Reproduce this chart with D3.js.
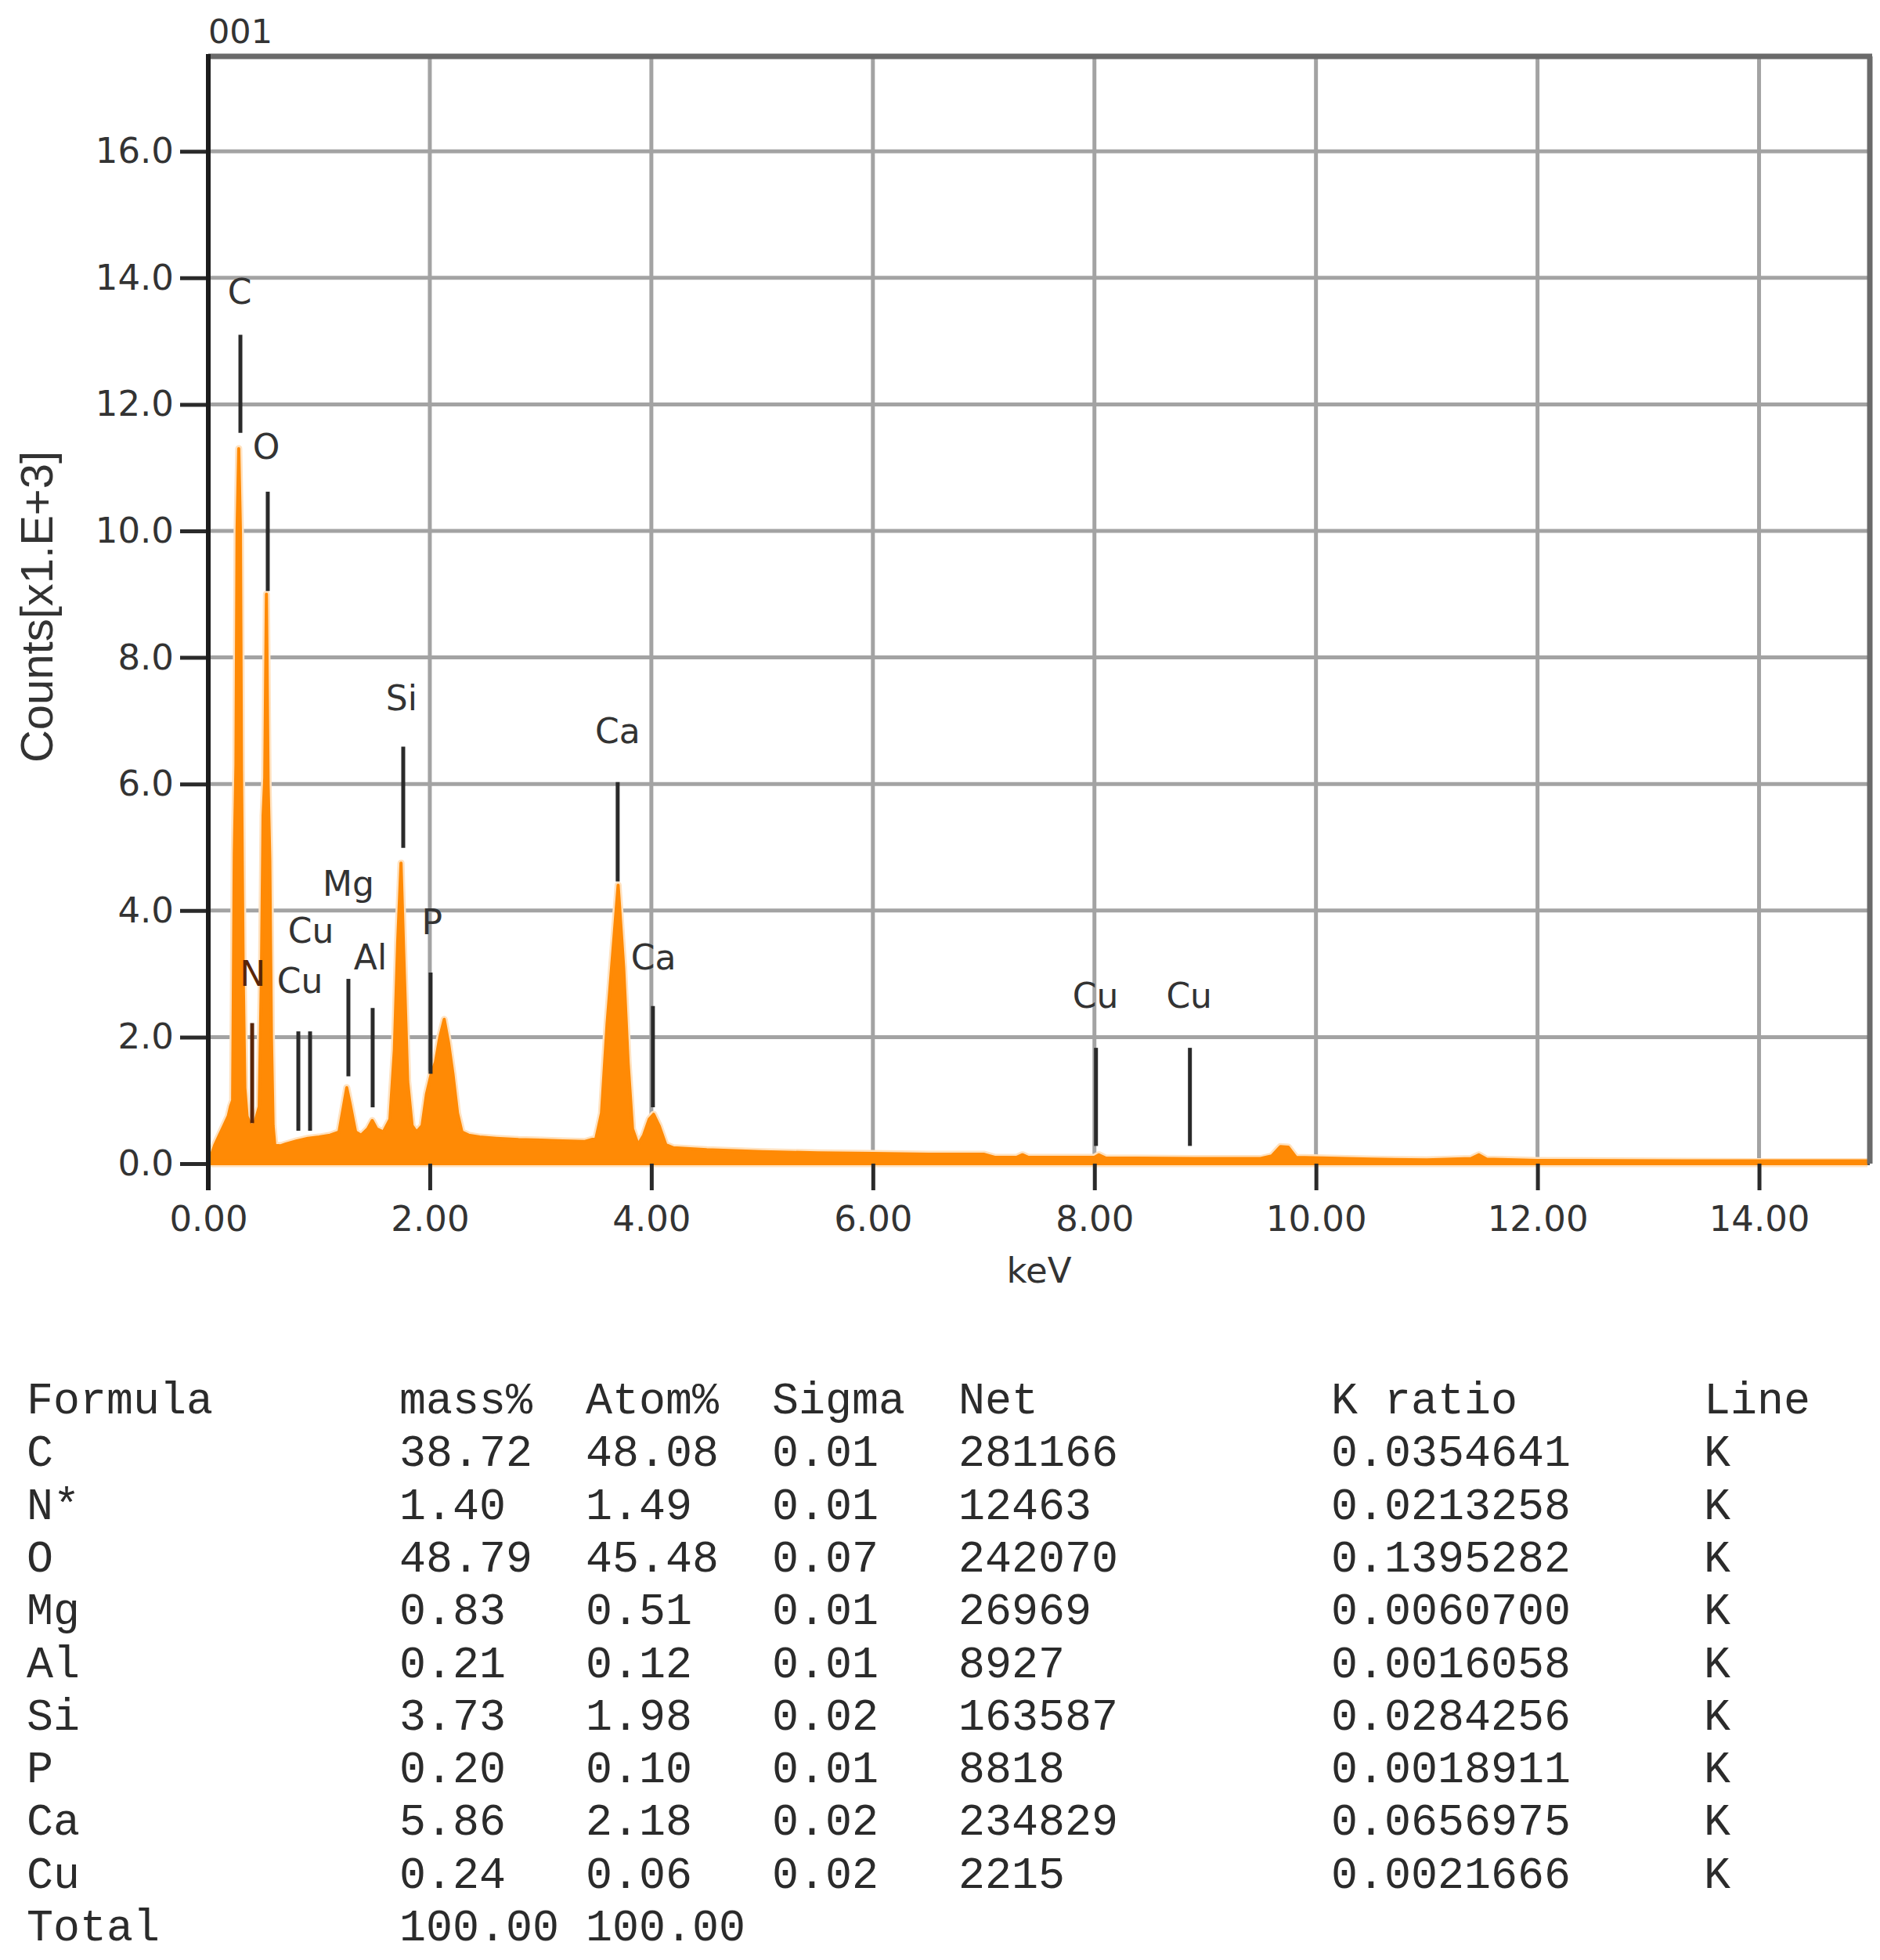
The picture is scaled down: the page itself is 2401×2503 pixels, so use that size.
<!DOCTYPE html>
<html>
<head>
<meta charset="utf-8">
<script src="https://cdn.jsdelivr.net/npm/d3@7"></script>
<style>
  html, body { margin: 0; padding: 0; background: #fff; }
  svg { display: block; }
</style>
</head>
<body>
<svg id="chart" width="2401" height="2503"></svg>
<script>
// ---------------- DATA ----------------
const spectrumKeV = [
  0.00, 0.03, 0.06, 0.10, 0.14, 0.18, 0.20, 0.22, 0.235, 0.25, 0.26, 0.275, 0.29, 0.30, 0.315, 0.33,
  0.35, 0.38, 0.40, 0.42, 0.46, 0.48, 0.495, 0.51, 0.525, 0.54, 0.555, 0.57, 0.585, 0.60,
  0.65, 0.70, 0.80, 0.90, 1.00, 1.10, 1.18, 1.22, 1.25, 1.28, 1.33, 1.38, 1.44, 1.48, 1.52,
  1.58, 1.64, 1.68, 1.71, 1.74, 1.77, 1.80, 1.84, 1.88, 1.93, 1.97, 2.01, 2.05, 2.09, 2.13,
  2.17, 2.21, 2.25, 2.29, 2.35, 2.45, 2.60, 2.80, 3.00, 3.20, 3.40, 3.50, 3.55, 3.60, 3.65,
  3.70, 3.75, 3.79, 3.83, 3.88, 3.93, 3.98, 4.02, 4.07, 4.13, 4.20, 4.50, 5.00, 5.50, 6.00,
  6.50, 7.00, 7.10, 7.30, 7.35, 7.40, 8.00, 8.04, 8.10, 9.00, 9.50, 9.60, 9.68, 9.75, 9.82,
  10.50, 11.00, 11.40, 11.47, 11.54, 12.00, 13.00, 14.00, 15.00
];
const spectrumCounts = [
  0.00, 0.15, 0.30, 0.45, 0.60, 0.75, 0.90, 1.00, 4.90, 6.30, 10.00, 11.30, 10.00, 6.20, 3.00, 1.20,
  0.75, 0.62, 0.60, 0.65, 0.90, 3.00, 5.50, 6.10, 9.00, 6.00, 4.80, 2.00, 0.60, 0.30,
  0.28, 0.31, 0.36, 0.40, 0.42, 0.45, 0.50, 0.90, 1.20, 0.95, 0.50, 0.45, 0.55, 0.68, 0.55,
  0.50, 0.70, 1.80, 3.50, 4.75, 3.00, 1.30, 0.60, 0.50, 0.60, 1.10, 1.40, 1.60, 2.00, 2.28,
  1.90, 1.40, 0.80, 0.50, 0.45, 0.42, 0.40, 0.38, 0.37, 0.36, 0.35, 0.40, 0.80, 2.20, 3.30,
  4.40, 3.10, 1.60, 0.55, 0.30, 0.45, 0.70, 0.78, 0.60, 0.30, 0.25, 0.22, 0.19, 0.17, 0.16,
  0.15, 0.15, 0.10, 0.10, 0.14, 0.10, 0.10, 0.14, 0.09, 0.08, 0.08, 0.12, 0.27, 0.26, 0.10,
  0.07, 0.06, 0.08, 0.14, 0.07, 0.05, 0.04, 0.03, 0.03
];

// peak marker lines: element, line energy, top/bottom of marker (counts), label anchor (keV, counts)
const markerElements = ["C", "O", "N", "Cu", "Cu", "Mg", "Al", "Si", "P", "Ca", "Ca", "Cu", "Cu"];
const markerKeV      = [0.290, 0.537, 0.396, 0.813, 0.919, 1.265, 1.484, 1.760, 2.007, 3.696, 4.014, 8.014, 8.862];
const markerTop      = [13.10, 10.62, 2.22, 2.09, 2.09, 2.92, 2.46, 6.59, 3.02, 6.03, 2.49, 1.83, 1.83];
const markerBottom   = [11.55, 9.05, 0.64, 0.52, 0.52, 1.38, 0.89, 4.99, 1.42, 4.46, 0.89, 0.28, 0.28];
const labelKeV       = [0.283, 0.523, 0.400, 0.827, 0.926, 1.265, 1.463, 1.745, 2.020, 3.696, 4.020, 8.010, 8.855];
const labelCounts    = [13.70, 11.25, 2.92, 2.81, 3.60, 4.34, 3.18, 7.27, 3.73, 6.76, 3.18, 2.57, 2.57];

const xTicks = [0, 2, 4, 6, 8, 10, 12, 14];
const yTicks = [0, 2, 4, 6, 8, 10, 12, 14, 16];
const xDomain = [0, 15];
const yDomain = [0, 17.5];
const chartTitle = "001";
const xLabel = "keV";
const yLabel = "Counts[x1.E+3]";

// quantification table
const tableHeaders = ["Formula", "mass%", "Atom%", "Sigma", "Net", "K ratio", "Line"];
const tableFormula = ["C", "N*", "O", "Mg", "Al", "Si", "P", "Ca", "Cu"];
const tableMass    = ["38.72", "1.40", "48.79", "0.83", "0.21", "3.73", "0.20", "5.86", "0.24"];
const tableAtom    = ["48.08", "1.49", "45.48", "0.51", "0.12", "1.98", "0.10", "2.18", "0.06"];
const tableSigma   = ["0.01", "0.01", "0.07", "0.01", "0.01", "0.02", "0.01", "0.02", "0.02"];
const tableNet     = ["281166", "12463", "242070", "26969", "8927", "163587", "8818", "234829", "2215"];
const tableKratio  = ["0.0354641", "0.0213258", "0.1395282", "0.0060700", "0.0016058", "0.0284256", "0.0018911", "0.0656975", "0.0021666"];
const tableLine    = ["K", "K", "K", "K", "K", "K", "K", "K", "K"];
const tableTotal   = ["Total", "100.00", "100.00"];

// ---------------- LAYOUT ----------------
const svg = d3.select("#chart");
svg.append("rect").attr("width", 2401).attr("height", 2503).attr("fill", "#fff");

const plot = { left: 266, right: 2388, top: 72, bottom: 1486 };
const x = d3.scaleLinear().domain(xDomain).range([plot.left, plot.right]);
const y = d3.scaleLinear().domain(yDomain).range([plot.bottom, plot.top]);

const sansW = "'DejaVu Sans', Verdana, sans-serif";
const textColor = "#333";
const gridColor = "#a3a3a3";
const orange = "#ff8a05";

svg.append("defs").append("clipPath").attr("id", "plotClip")
  .append("rect").attr("x", plot.left).attr("y", plot.top - 10)
  .attr("width", plot.right - plot.left - 3).attr("height", plot.bottom - plot.top + 16);

// grid
const grid = svg.append("g");
grid.selectAll("line.v").data(xTicks.filter(d => d > 0)).join("line")
  .attr("x1", d => x(d)).attr("x2", d => x(d))
  .attr("y1", plot.top).attr("y2", plot.bottom)
  .attr("stroke", gridColor).attr("stroke-width", 5);
grid.selectAll("line.h").data(yTicks.filter(d => d > 0)).join("line")
  .attr("x1", plot.left).attr("x2", plot.right)
  .attr("y1", d => y(d)).attr("y2", d => y(d))
  .attr("stroke", gridColor).attr("stroke-width", 5);

// bottom axis line
svg.append("line").attr("x1", plot.left).attr("x2", plot.right)
  .attr("y1", plot.bottom).attr("y2", plot.bottom)
  .attr("stroke", "#555").attr("stroke-width", 4);

// spectrum
const spectrum = spectrumKeV.map((k, i) => ({ k, c: spectrumCounts[i] }));
const area = d3.area().x(d => x(d.k)).y0(y(0)).y1(d => y(d.c)).curve(d3.curveLinear);
const sg = svg.append("g").attr("clip-path", "url(#plotClip)");
sg.append("path").datum(spectrum).attr("d", area)
  .attr("fill", "#ffd9ab").attr("stroke", "#ffe2c0").attr("stroke-width", 9).attr("stroke-linejoin", "round");
sg.append("path").datum(spectrum).attr("d", area)
  .attr("fill", orange).attr("stroke", orange).attr("stroke-width", 4).attr("stroke-linejoin", "round");
sg.append("line").attr("x1", plot.left).attr("x2", plot.right)
  .attr("y1", plot.bottom - 2).attr("y2", plot.bottom - 2)
  .attr("stroke", orange).attr("stroke-width", 7);

// frame (top and right)
svg.append("line").attr("x1", plot.left).attr("x2", plot.right + 3)
  .attr("y1", plot.top).attr("y2", plot.top)
  .attr("stroke", "#6a6a6a").attr("stroke-width", 7);
svg.append("line").attr("x1", plot.right).attr("x2", plot.right)
  .attr("y1", plot.top).attr("y2", plot.bottom)
  .attr("stroke", "#6a6a6a").attr("stroke-width", 7);

// axes
const yAxis = d3.axisLeft(y).tickValues(yTicks).tickSize(36).tickPadding(8).tickFormat(d3.format(".1f"));
const gy = svg.append("g").attr("transform", `translate(${plot.left},0)`).call(yAxis);
gy.select(".domain").remove();
gy.selectAll(".tick line").attr("stroke", "#2a2a2a").attr("stroke-width", 5);
gy.selectAll(".tick text").attr("fill", textColor).attr("font-family", sansW).attr("font-size", 45);

const xAxis = d3.axisBottom(x).tickValues(xTicks).tickSize(34).tickPadding(20).tickFormat(d3.format(".2f"));
const gx = svg.append("g").attr("transform", `translate(0,${plot.bottom})`).call(xAxis);
gx.select(".domain").remove();
gx.selectAll(".tick line").attr("stroke", "#2a2a2a").attr("stroke-width", 5);
gx.selectAll(".tick text").attr("fill", textColor).attr("font-family", sansW).attr("font-size", 45);

// left axis line (extends to tick bottom)
svg.append("line").attr("x1", plot.left).attr("x2", plot.left)
  .attr("y1", plot.top - 3).attr("y2", plot.bottom + 34)
  .attr("stroke", "#1c1c1c").attr("stroke-width", 6);

// markers
const markers = markerElements.map((el, i) => ({
  el, k: markerKeV[i], top: markerTop[i], bottom: markerBottom[i], lk: labelKeV[i], lc: labelCounts[i]
}));
svg.append("g").selectAll("line").data(markers).join("line")
  .attr("x1", d => x(d.k)).attr("x2", d => x(d.k))
  .attr("y1", d => y(d.top)).attr("y2", d => y(d.bottom))
  .attr("stroke", d => d.el === "N" ? "#5a2508" : "#2a2a2a").attr("stroke-width", 5);
svg.append("g").selectAll("text").data(markers).join("text")
  .attr("x", d => x(d.lk)).attr("y", d => y(d.lc))
  .attr("dy", "0.2em").attr("text-anchor", "middle")
  .attr("font-family", sansW).attr("font-size", 44)
  .attr("fill", d => d.el === "N" ? "#5a2508" : textColor)
  .text(d => d.el);

// titles
svg.append("text").attr("x", plot.left).attr("y", 55)
  .attr("font-family", sansW).attr("font-size", 43).attr("fill", textColor).text(chartTitle);
svg.append("text").attr("x", x(7.5)).attr("y", 1638).attr("text-anchor", "middle")
  .attr("font-family", sansW).attr("font-size", 45).attr("fill", textColor).text(xLabel);
svg.append("text").attr("transform", `translate(67,${(plot.top + plot.bottom) / 2 - 4}) rotate(-90)`)
  .attr("text-anchor", "middle")
  .attr("font-family", "'Liberation Sans', Arial, sans-serif").attr("font-size", 58)
  .attr("fill", textColor).text(yLabel);

// table
const mono = "'Liberation Mono', 'Courier New', monospace";
const charW = 34.0;
const tableX0 = 34;
const colChars = [0, 14, 21, 28, 35, 49, 63];
const rowY0 = 1805, rowStep = 67.3;
const tableRows = [tableHeaders].concat(
  tableFormula.map((f, i) => [f, tableMass[i], tableAtom[i], tableSigma[i], tableNet[i], tableKratio[i], tableLine[i]]),
  [tableTotal]
);
const tg = svg.append("g").attr("font-family", mono).attr("font-size", charW / 0.6).attr("fill", "#2b2b2b");
tableRows.forEach((row, r) => {
  tg.append("g").selectAll("text").data(row).join("text")
    .attr("x", (d, c) => tableX0 + colChars[c] * charW)
    .attr("y", rowY0 + r * rowStep)
    .attr("xml:space", "preserve")
    .style("white-space", "pre")
    .text(d => d);
});
</script>
</body>
</html>
